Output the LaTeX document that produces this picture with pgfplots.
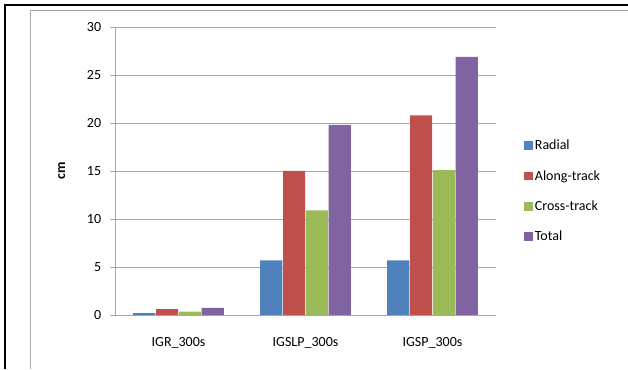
\documentclass[border=0pt]{standalone}
\usepackage{pgfplots}
\pgfplotsset{compat=1.18}
\usepackage{fontspec}
\setmainfont{Carlito}
\definecolor{cblue}{HTML}{4F81BD}
\definecolor{cred}{HTML}{C0504D}
\definecolor{cgreen}{HTML}{9BBB59}
\definecolor{cpurple}{HTML}{8064A2}
\definecolor{gridgray}{HTML}{A6A6A6}
\begin{document}
\fontsize{14}{16}\selectfont
\begin{tikzpicture}
\path[use as bounding box] (0pt,0pt) rectangle (628pt,369pt);
\draw[black,line width=2pt] (5pt,0pt) -- (5pt,364pt) -- (628pt,364pt);
\draw[gridgray,line width=0.8pt] (30pt,0pt) -- (30pt,359pt) -- (628pt,359pt);
\begin{axis}[
  at={(115pt,54pt)}, anchor=south west,
  scale only axis, width=381pt, height=288pt,
  ybar=0.6pt, bar width=22.2pt,
  xmin=-0.5, xmax=2.5, ymin=0, ymax=30,
  xtick=data, xticklabels={IGR\_300s,IGSLP\_300s,IGSP\_300s},
  x tick style={draw=none},
  ytick={0,5,...,30},
  ymajorgrids, grid style={gridgray,line width=0.8pt},
  axis x line*=bottom, axis y line*=left,
  axis line style={gridgray,line width=0.8pt,-},
  y tick style={gridgray,line width=0.8pt},
  tick align=outside, major tick length=5pt,
  ylabel={\textbf{cm}}, ylabel style={at={(axis description cs:0,0.5)}, anchor=south, yshift=45pt},
  /pgf/number format/assume math mode=true,
  tick label style={font=\fontsize{14}{16}\selectfont},
  yticklabel style={xshift=-4pt},
  xticklabel style={yshift=-13pt},
  legend style={at={(1.074,0.615)}, anchor=north west, draw=none, fill=none,
    font=\fontsize{14}{16}\selectfont, row sep=14.5pt, inner sep=0pt},
  legend cell align=left,
  legend image code/.code={\path[#1,draw=none] (0pt,-4pt) rectangle (8.5pt,4.5pt);},
]
\addplot[fill=cblue,draw=none] coordinates {(0,0.2) (1,5.7) (2,5.7)};
\addplot[fill=cred,draw=none] coordinates {(0,0.62) (1,15.0) (2,20.8)};
\addplot[fill=cgreen,draw=none] coordinates {(0,0.35) (1,10.9) (2,15.1)};
\addplot[fill=cpurple,draw=none] coordinates {(0,0.75) (1,19.8) (2,26.9)};
\legend{Radial,Along-track,Cross-track,Total}
\end{axis}
\end{tikzpicture}
\end{document}
